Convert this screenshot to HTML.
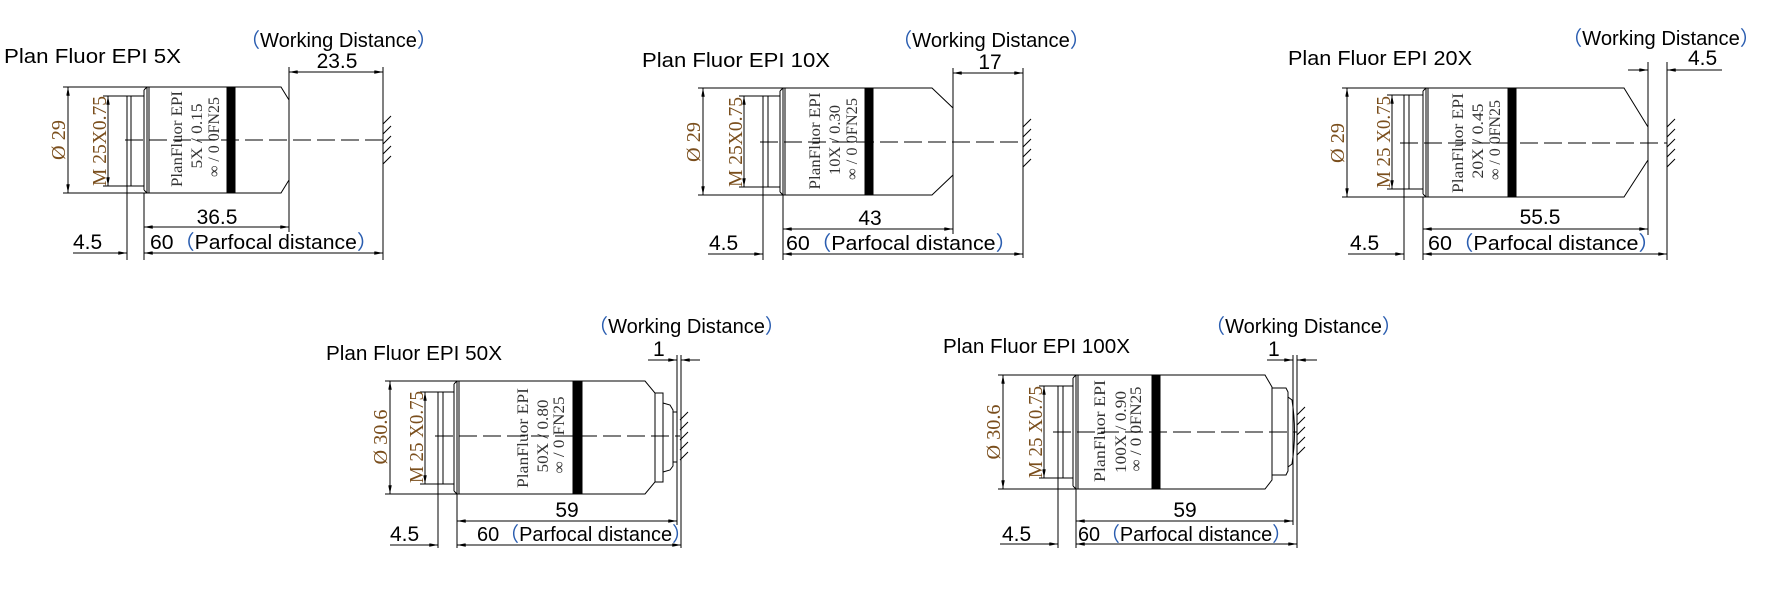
<!DOCTYPE html>
<html><head><meta charset="utf-8"><style>
html,body{margin:0;padding:0;background:#fff;}
svg{display:block}
.t{font-family:"Liberation Sans","Noto Sans CJK SC",sans-serif;font-size:20px;fill:#000}
.n{font-family:"Liberation Sans",sans-serif;font-size:21px;fill:#000}
.p{fill:#2a5db0}
.s{font-family:"Liberation Serif",serif;font-size:16px;fill:#333}
.o{font-family:"Liberation Serif",serif;font-size:20px;fill:#7a4e1c}
line,path,rect{stroke:#000;stroke-width:1;fill:none}
.b{fill:#000}
.d{stroke-dasharray:18 6}
.a{marker-start:url(#ar);marker-end:url(#ar)}
.e{marker-end:url(#ar)}
.st{marker-start:url(#ar)}
</style></head><body>
<svg width="1768" height="599" viewBox="0 0 1768 599" xmlns="http://www.w3.org/2000/svg">
<defs><marker id="ar" viewBox="0 0 10 4" refX="10" refY="2" markerWidth="9" markerHeight="3.5" orient="auto-start-reverse" markerUnits="userSpaceOnUse"><path d="M0,0 L10,2 L0,4z" style="fill:#000;stroke:none"/></marker></defs>

<!-- 5X -->
<text class="t" x="4" y="63" textLength="177" lengthAdjust="spacingAndGlyphs">Plan Fluor EPI 5X</text>
<text class="t" x="240" y="47" textLength="197" lengthAdjust="spacingAndGlyphs"><tspan class="p">（</tspan>Working Distance<tspan class="p">）</tspan></text>
<path d="M147,87 L281,87 L289,100 L289,180 L281,193 L147,193 Z"/>
<path d="M144,90 L147,87 M144,190 L147,193 M144,90 L144,190 M149,87 L149,193"/>
<rect x="127" y="96" width="17" height="90"/><line x1="131" y1="96" x2="131" y2="186"/>
<rect class="b" x="227" y="87" width="8" height="106"/>
<line x1="63" y1="87" x2="147" y2="87"/><line x1="63" y1="193" x2="147" y2="193"/>
<line class="a" x1="68" y1="87" x2="68" y2="193"/>
<text class="o" transform="translate(65,140) rotate(-90)" text-anchor="middle" textLength="40" lengthAdjust="spacingAndGlyphs">Ø 29</text>
<line x1="103" y1="96" x2="127" y2="96"/><line x1="103" y1="186" x2="127" y2="186"/>
<line class="a" x1="108" y1="96" x2="108" y2="186"/>
<text class="o" transform="translate(106,141) rotate(-90)" text-anchor="middle" textLength="90" lengthAdjust="spacingAndGlyphs">M 25X0.75</text>
<text class="s" transform="translate(182,139) rotate(-90)" text-anchor="middle" textLength="96" lengthAdjust="spacingAndGlyphs">PlanFluor EPI</text>
<text class="s" transform="translate(202,136) rotate(-90)" text-anchor="middle" textLength="65" lengthAdjust="spacingAndGlyphs">5X / 0.15</text>
<text class="s" transform="translate(219,137) rotate(-90)" text-anchor="middle" textLength="80" lengthAdjust="spacingAndGlyphs">∞  / 0  0FN25</text>
<line class="d" x1="125" y1="140" x2="383" y2="140"/>
<line x1="383" y1="67" x2="383" y2="260"/>
<path d="M383,124 L391,116 M383,134 L391,126 M383,144 L391,136 M383,154 L391,146 M383,164 L391,156"/>
<line x1="289" y1="67" x2="289" y2="100"/>
<line class="a" x1="289" y1="72" x2="383" y2="72"/>
<text class="n" x="337" y="68" text-anchor="middle">23.5</text>
<line x1="289" y1="180" x2="289" y2="232"/>
<line class="a" x1="144" y1="227" x2="289" y2="227"/>
<text class="n" x="217" y="224" text-anchor="middle">36.5</text>
<line x1="127" y1="186" x2="127" y2="260"/><line x1="144" y1="193" x2="144" y2="260"/>
<line class="e" x1="73" y1="253" x2="127" y2="253"/>
<line class="a" x1="144" y1="253" x2="383" y2="253"/>
<text class="n" x="73" y="249">4.5</text>
<text class="t" x="150" y="249" textLength="228" lengthAdjust="spacingAndGlyphs">60<tspan class="p">（</tspan>Parfocal distance<tspan class="p">）</tspan></text>

<!-- 10X -->
<text class="t" x="642" y="67" textLength="188" lengthAdjust="spacingAndGlyphs">Plan Fluor EPI 10X</text>
<text class="t" x="892" y="47" textLength="198" lengthAdjust="spacingAndGlyphs"><tspan class="p">（</tspan>Working Distance<tspan class="p">）</tspan></text>
<path d="M783,88 L932,88 L953,108 L953,175 L932,195 L783,195 Z"/>
<path d="M780,91 L783,88 M780,192 L783,195 M780,91 L780,192 M785,88 L785,195"/>
<rect x="763" y="96" width="17" height="91"/><line x1="768" y1="96" x2="768" y2="187"/>
<rect class="b" x="865" y="88" width="8" height="107"/>
<line x1="698" y1="88" x2="783" y2="88"/><line x1="698" y1="195" x2="783" y2="195"/>
<line class="a" x1="703" y1="88" x2="703" y2="195"/>
<text class="o" transform="translate(700,142) rotate(-90)" text-anchor="middle" textLength="40" lengthAdjust="spacingAndGlyphs">Ø 29</text>
<line x1="739" y1="96" x2="763" y2="96"/><line x1="739" y1="187" x2="763" y2="187"/>
<line class="a" x1="744" y1="96" x2="744" y2="187"/>
<text class="o" transform="translate(742,142) rotate(-90)" text-anchor="middle" textLength="90" lengthAdjust="spacingAndGlyphs">M 25X0.75</text>
<text class="s" transform="translate(820,141) rotate(-90)" text-anchor="middle" textLength="97" lengthAdjust="spacingAndGlyphs">PlanFluor EPI</text>
<text class="s" transform="translate(840,140) rotate(-90)" text-anchor="middle" textLength="70" lengthAdjust="spacingAndGlyphs">10X / 0.30</text>
<text class="s" transform="translate(857,139) rotate(-90)" text-anchor="middle" textLength="82" lengthAdjust="spacingAndGlyphs">∞  / 0  0FN25</text>
<line class="d" x1="760" y1="142" x2="1023" y2="142"/>
<line x1="1023" y1="68" x2="1023" y2="258"/>
<path d="M1023,127 L1031,119 M1023,137 L1031,129 M1023,147 L1031,139 M1023,157 L1031,149 M1023,167 L1031,159"/>
<line x1="953" y1="68" x2="953" y2="108"/>
<line class="a" x1="953" y1="73" x2="1023" y2="73"/>
<text class="n" x="990" y="69" text-anchor="middle">17</text>
<line x1="953" y1="175" x2="953" y2="234"/>
<line class="a" x1="783" y1="229" x2="953" y2="229"/>
<text class="n" x="870" y="225" text-anchor="middle">43</text>
<line x1="763" y1="187" x2="763" y2="260"/><line x1="783" y1="195" x2="783" y2="260"/>
<line class="e" x1="708" y1="254" x2="763" y2="254"/>
<line class="a" x1="783" y1="254" x2="1023" y2="254"/>
<text class="n" x="709" y="250">4.5</text>
<text class="t" x="786" y="250" textLength="231" lengthAdjust="spacingAndGlyphs">60<tspan class="p">（</tspan>Parfocal distance<tspan class="p">）</tspan></text>

<!-- 20X -->
<text class="t" x="1288" y="65" textLength="184" lengthAdjust="spacingAndGlyphs">Plan Fluor EPI 20X</text>
<text class="t" x="1562" y="45" textLength="198" lengthAdjust="spacingAndGlyphs"><tspan class="p">（</tspan>Working Distance<tspan class="p">）</tspan></text>
<path d="M1426,88 L1624,88 L1648,127 L1648,160 L1624,197 L1426,197 Z"/>
<path d="M1423,91 L1426,88 M1423,194 L1426,197 M1423,91 L1423,194 M1428,88 L1428,197"/>
<rect x="1404" y="95" width="19" height="94"/><line x1="1409" y1="95" x2="1409" y2="189"/>
<rect class="b" x="1508" y="88" width="8" height="109"/>
<line x1="1342" y1="88" x2="1426" y2="88"/><line x1="1342" y1="197" x2="1426" y2="197"/>
<line class="a" x1="1347" y1="88" x2="1347" y2="197"/>
<text class="o" transform="translate(1344,143) rotate(-90)" text-anchor="middle" textLength="40" lengthAdjust="spacingAndGlyphs">Ø 29</text>
<line x1="1387" y1="95" x2="1404" y2="95"/><line x1="1387" y1="189" x2="1404" y2="189"/>
<line class="a" x1="1392" y1="95" x2="1392" y2="189"/>
<text class="o" transform="translate(1390,142) rotate(-90)" text-anchor="middle" textLength="92" lengthAdjust="spacingAndGlyphs">M 25 X0.75</text>
<text class="s" transform="translate(1463,143) rotate(-90)" text-anchor="middle" textLength="100" lengthAdjust="spacingAndGlyphs">PlanFluor EPI</text>
<text class="s" transform="translate(1483,141) rotate(-90)" text-anchor="middle" textLength="75" lengthAdjust="spacingAndGlyphs">20X / 0.45</text>
<text class="s" transform="translate(1500,140) rotate(-90)" text-anchor="middle" textLength="80" lengthAdjust="spacingAndGlyphs">∞  / 0  0FN25</text>
<line class="d" x1="1400" y1="143" x2="1667" y2="143"/>
<line x1="1667" y1="62" x2="1667" y2="260"/>
<path d="M1667,127 L1675,119 M1667,137 L1675,129 M1667,147 L1675,139 M1667,157 L1675,149 M1667,167 L1675,159"/>
<line x1="1648" y1="62" x2="1648" y2="235"/>
<line class="e" x1="1628" y1="70" x2="1648" y2="70"/>
<line class="st" x1="1667" y1="70" x2="1722" y2="70"/>
<text class="n" x="1688" y="65">4.5</text>
<line class="a" x1="1423" y1="229" x2="1648" y2="229"/>
<text class="n" x="1540" y="224" text-anchor="middle">55.5</text>
<line x1="1404" y1="189" x2="1404" y2="260"/><line x1="1423" y1="197" x2="1423" y2="260"/>
<line class="e" x1="1348" y1="254" x2="1404" y2="254"/>
<line class="a" x1="1423" y1="254" x2="1667" y2="254"/>
<text class="n" x="1350" y="250">4.5</text>
<text class="t" x="1428" y="250" textLength="232" lengthAdjust="spacingAndGlyphs">60<tspan class="p">（</tspan>Parfocal distance<tspan class="p">）</tspan></text>

<!-- 50X -->
<text class="t" x="326" y="360" textLength="176" lengthAdjust="spacingAndGlyphs">Plan Fluor EPI 50X</text>
<text class="t" x="588" y="333" textLength="197" lengthAdjust="spacingAndGlyphs"><tspan class="p">（</tspan>Working Distance<tspan class="p">）</tspan></text>
<path d="M457,381 L645,381 L655,393 L655,482 L645,494 L457,494 Z"/>
<path d="M454,384 L457,381 M454,491 L457,494 M454,384 L454,491 M459,381 L459,494"/>
<rect x="655" y="393" width="8" height="89"/>
<path d="M663,403 L670,405 L673,410 L673,466 L670,470 L663,472"/>
<rect x="673" y="412" width="4" height="50"/>
<rect x="438" y="392" width="16" height="92"/><line x1="443" y1="392" x2="443" y2="484"/>
<rect class="b" x="573" y="381" width="9" height="113"/>
<line x1="385" y1="381" x2="457" y2="381"/><line x1="385" y1="494" x2="457" y2="494"/>
<line class="a" x1="390" y1="381" x2="390" y2="494"/>
<text class="o" transform="translate(387,437) rotate(-90)" text-anchor="middle" textLength="55" lengthAdjust="spacingAndGlyphs">Ø 30.6</text>
<line x1="420" y1="392" x2="438" y2="392"/><line x1="420" y1="484" x2="438" y2="484"/>
<line class="a" x1="425" y1="392" x2="425" y2="484"/>
<text class="o" transform="translate(423,437) rotate(-90)" text-anchor="middle" textLength="92" lengthAdjust="spacingAndGlyphs">M 25 X0.75</text>
<text class="s" transform="translate(528,438) rotate(-90)" text-anchor="middle" textLength="100" lengthAdjust="spacingAndGlyphs">PlanFluor EPI</text>
<text class="s" transform="translate(548,436) rotate(-90)" text-anchor="middle" textLength="73" lengthAdjust="spacingAndGlyphs">50X / 0.80</text>
<text class="s" transform="translate(564,435) rotate(-90)" text-anchor="middle" textLength="77" lengthAdjust="spacingAndGlyphs">∞  / 0  FN25</text>
<line class="d" x1="435" y1="436" x2="680" y2="436"/>
<path d="M680,420 L688,412 M680,430 L688,422 M680,440 L688,432 M680,450 L688,442 M680,460 L688,452"/>
<line x1="677" y1="355" x2="677" y2="525"/><line x1="681" y1="355" x2="681" y2="548"/>
<line class="e" x1="648" y1="360" x2="677" y2="360"/>
<line class="st" x1="681" y1="360" x2="700" y2="360"/>
<text class="n" x="653" y="356">1</text>
<line class="a" x1="457" y1="521" x2="677" y2="521"/>
<text class="n" x="567" y="517" text-anchor="middle">59</text>
<line x1="438" y1="484" x2="438" y2="548"/><line x1="457" y1="494" x2="457" y2="548"/>
<line class="e" x1="390" y1="545" x2="438" y2="545"/>
<line class="a" x1="457" y1="545" x2="681" y2="545"/>
<text class="n" x="390" y="541">4.5</text>
<text class="t" x="477" y="541" textLength="215" lengthAdjust="spacingAndGlyphs">60<tspan class="p">（</tspan>Parfocal distance<tspan class="p">）</tspan></text>

<!-- 100X -->
<text class="t" x="943" y="353" textLength="187" lengthAdjust="spacingAndGlyphs">Plan Fluor EPI 100X</text>
<text class="t" x="1205" y="333" textLength="197" lengthAdjust="spacingAndGlyphs"><tspan class="p">（</tspan>Working Distance<tspan class="p">）</tspan></text>
<path d="M1076,375 L1265,375 L1272,387 L1272,480 L1265,489 L1076,489 Z"/>
<path d="M1073,378 L1076,375 M1073,486 L1076,489 M1073,378 L1073,486 M1078,375 L1078,489"/>
<path d="M1272,388 L1286,388 L1288,392 L1288,471 L1286,475 L1272,475"/>
<path d="M1288,397 L1292,400 Q1297,432 1292,464 L1288,467"/>
<rect x="1058" y="386" width="15" height="92"/><line x1="1063" y1="386" x2="1063" y2="478"/>
<rect class="b" x="1152" y="375" width="8" height="114"/>
<line x1="998" y1="375" x2="1076" y2="375"/><line x1="998" y1="489" x2="1076" y2="489"/>
<line class="a" x1="1003" y1="375" x2="1003" y2="489"/>
<text class="o" transform="translate(1000,432) rotate(-90)" text-anchor="middle" textLength="55" lengthAdjust="spacingAndGlyphs">Ø 30.6</text>
<line x1="1039" y1="386" x2="1058" y2="386"/><line x1="1039" y1="478" x2="1058" y2="478"/>
<line class="a" x1="1044" y1="386" x2="1044" y2="478"/>
<text class="o" transform="translate(1042,432) rotate(-90)" text-anchor="middle" textLength="92" lengthAdjust="spacingAndGlyphs">M 25 X0.75</text>
<text class="s" transform="translate(1105,431) rotate(-90)" text-anchor="middle" textLength="102" lengthAdjust="spacingAndGlyphs">PlanFluor EPI</text>
<text class="s" transform="translate(1126,432) rotate(-90)" text-anchor="middle" textLength="82" lengthAdjust="spacingAndGlyphs">100X / 0.90</text>
<text class="s" transform="translate(1141,429) rotate(-90)" text-anchor="middle" textLength="85" lengthAdjust="spacingAndGlyphs">∞  / 0  0FN25</text>
<line class="d" x1="1053" y1="432" x2="1297" y2="432"/>
<path d="M1297,415 L1305,407 M1297,425 L1305,417 M1297,435 L1305,427 M1297,445 L1305,437 M1297,455 L1305,447"/>
<line x1="1293" y1="355" x2="1293" y2="525"/><line x1="1297" y1="355" x2="1297" y2="548"/>
<line class="e" x1="1267" y1="360" x2="1293" y2="360"/>
<line class="st" x1="1297" y1="360" x2="1317" y2="360"/>
<text class="n" x="1268" y="356">1</text>
<line class="a" x1="1076" y1="521" x2="1293" y2="521"/>
<text class="n" x="1185" y="517" text-anchor="middle">59</text>
<line x1="1058" y1="478" x2="1058" y2="548"/><line x1="1076" y1="489" x2="1076" y2="548"/>
<line class="e" x1="1000" y1="544" x2="1058" y2="544"/>
<line class="a" x1="1076" y1="544" x2="1297" y2="544"/>
<text class="n" x="1002" y="541">4.5</text>
<text class="t" x="1078" y="541" textLength="214" lengthAdjust="spacingAndGlyphs">60<tspan class="p">（</tspan>Parfocal distance<tspan class="p">）</tspan></text>
</svg>
</body></html>
